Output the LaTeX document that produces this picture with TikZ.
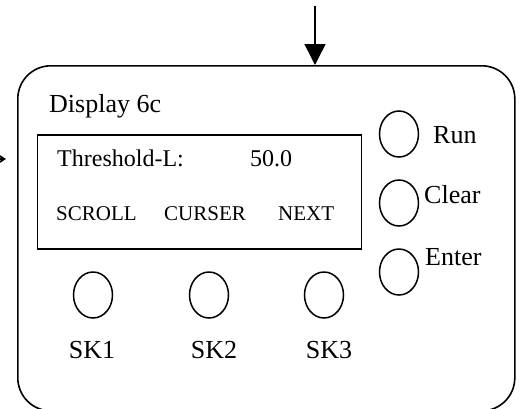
\documentclass[tikz,border=0pt]{standalone}
\usepackage{fontspec}
\setmainfont{Liberation Serif}
\usetikzlibrary{arrows.meta, shapes.geometric}

\tikzset{
    btn/.style = {draw, ellipse, line width = 1.5pt, inner sep = 0pt,
                  minimum width = 39pt, minimum height = 46pt},
    txt/.style = {anchor = base west, inner sep = 0pt,
                  font = \fontsize{26}{30}\selectfont},
    lcd/.style = {anchor = base west, inner sep = 0pt,
                  font = \fontsize{24}{28}\selectfont},
    soft/.style = {anchor = base west, inner sep = 0pt,
                   font = \fontsize{21}{25}\selectfont}
}

\begin{document}
\begin{tikzpicture}[x = 1pt, y = -1pt]
    \useasboundingbox (0, 0) rectangle (523, 408);
    {
      \node[draw, line width = 1.6pt, rounded corners = 33pt, anchor = north west,
            minimum width = 497pt, minimum height = 345pt] (panel) at (17, 65) {};
      \node[draw, line width = 1.6pt, anchor = north west,
            minimum width = 324pt, minimum height = 114pt] (screen) at (36.5, 134) {};
    }
    {
      \coordinate (top) at (315, 6);
      \coordinate (left) at (-30, 159);
      \coordinate (tip) at (6, 159);
      \draw[line width = 1.5pt, -{Triangle[width = 21pt, length = 21pt]}] (top) -- (top |- panel.north);
      \draw[line width = 1.5pt, -{Stealth[width = 9pt, length = 7pt]}] (left) -- (tip);
    }
    \node[txt] (title) at (49, 112) {Display 6c};
    {
      \node[lcd] (param) at (57, 166) {Threshold-L:};
      \node[lcd] (value) at (250, 166) {50.0};
      \node[soft] (scroll) at (56, 220) {SCROLL};
      \node[soft] (curser) at (164, 220) {CURSER};
      \node[soft] (next) at (278, 220) {NEXT};
    }
    {
      \node[btn] (sk1) at (93, 295) {};
      \node[btn] (sk2) at (209, 295) {};
      \node[btn] (sk3) at (324, 295) {};
      \node[txt, anchor = base] (sk1 label) at (92, 358) {SK1};
      \node[txt, anchor = base] (sk2 label) at (214, 358) {SK2};
      \node[txt, anchor = base] (sk3 label) at (329, 358) {SK3};
    }
    {
      \node[btn] (run) at (399, 134) {};
      \node[btn] (clear) at (399, 203) {};
      \node[btn] (enter) at (399, 272) {};
      \node[txt] (run label) at (433, 143) {Run};
      \node[txt] (clear label) at (424, 203) {Clear};
      \node[txt] (enter label) at (425, 265) {Enter};
    }
\end{tikzpicture}
\end{document}
